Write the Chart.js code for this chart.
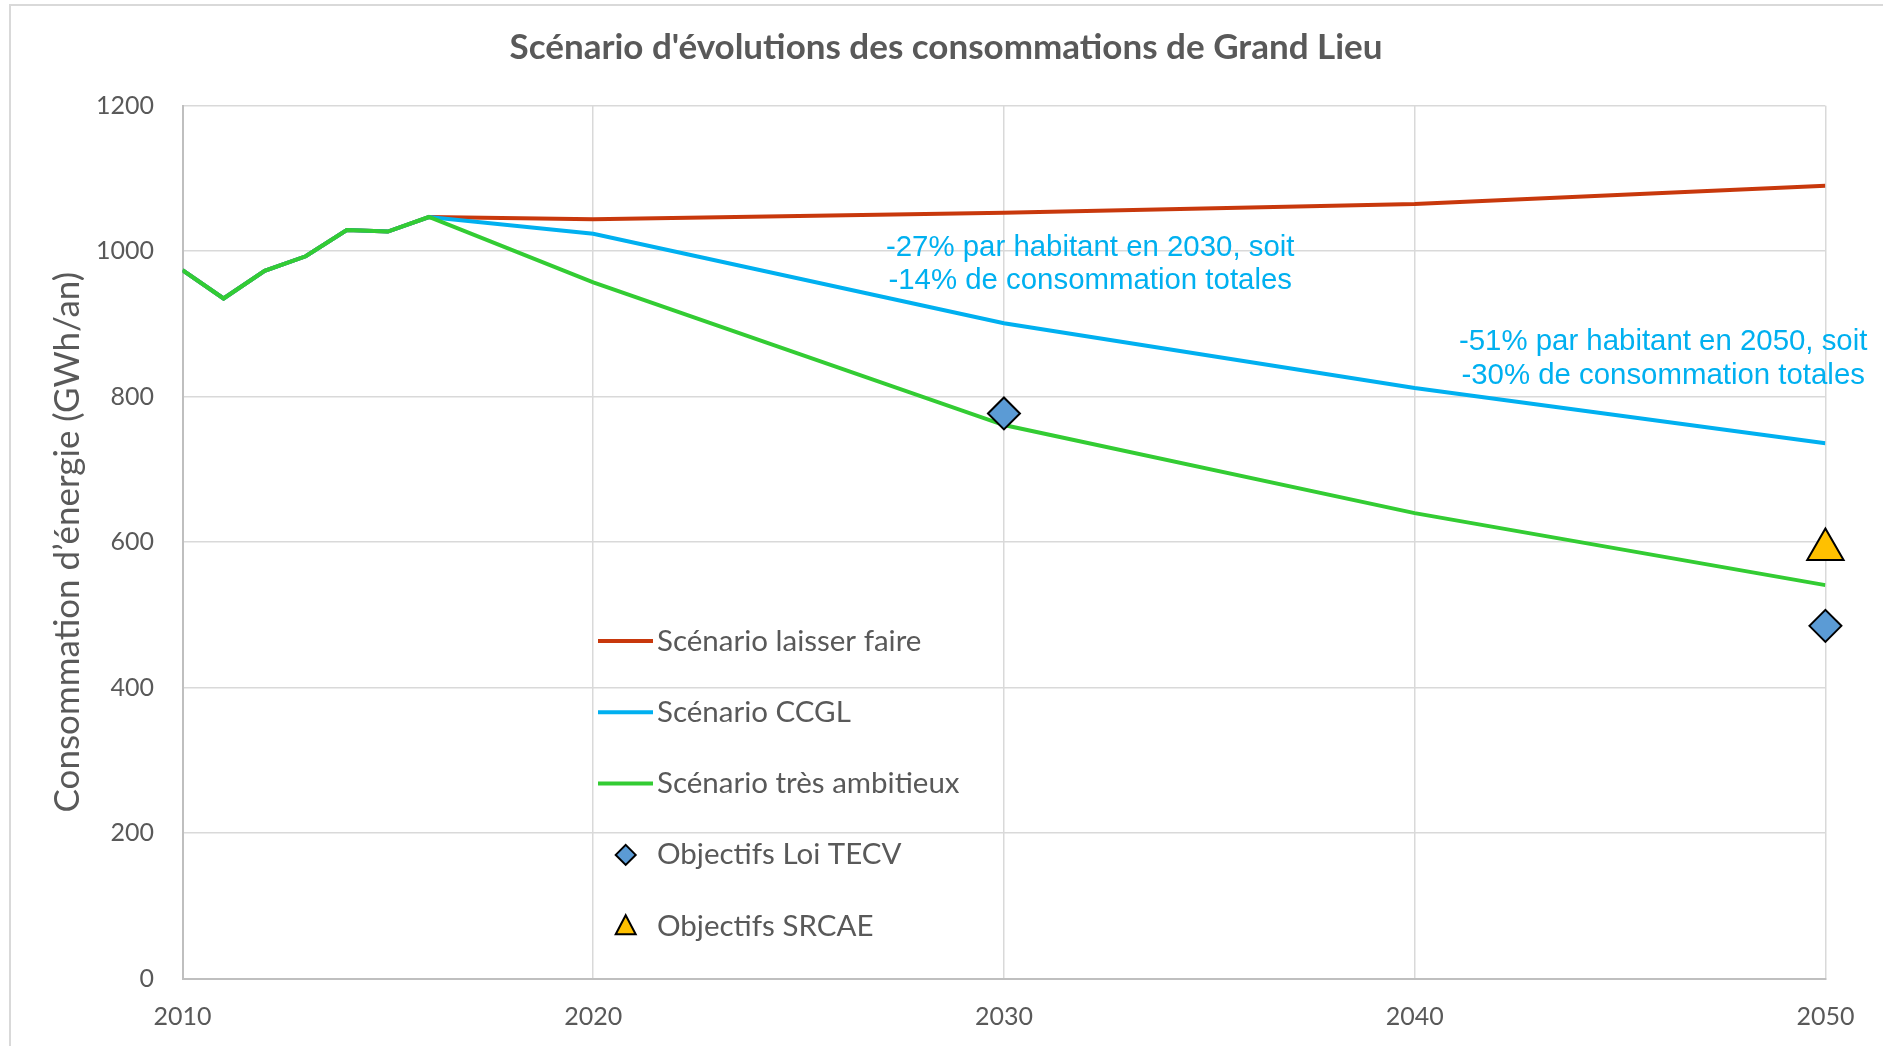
<!DOCTYPE html>
<html>
<head>
<meta charset="utf-8">
<script src="https://cdn.jsdelivr.net/npm/chart.js@4/dist/chart.umd.min.js"></script>
<style>
  html, body { margin: 0; padding: 0; background: #fff; }
  #frame { position: absolute; left: 9px; top: 4px; width: 1900px; height: 1100px; border: 2px solid #d9d9d9; }
  #wrap { position: absolute; left: 0; top: 0; width: 1883px; height: 1046px; }
</style>
</head>
<body>
<div id="frame"></div>
<div id="wrap"><canvas id="chart"></canvas></div>
<script>
// ─── DATA ───────────────────────────────────────────────────────────
const histYears = [2010, 2011, 2012, 2013, 2014, 2015, 2016];
const histValues = [974, 935, 973, 993, 1029, 1027, 1047];
const futureYears = [2020, 2030, 2040, 2050];
const laisserFaire = [1044, 1053, 1065, 1090];
const ccgl = [1024, 901, 812, 736];
const tresAmbitieux = [957, 761, 640, 541];
const tecvYears = [2030, 2050];
const tecvValues = [777, 485];
const srcaeYears = [2050];
const srcaeValues = [590];
const xTicks = [2010, 2020, 2030, 2040, 2050];
const yTicks = [0, 200, 400, 600, 800, 1000, 1200];

const chartTitle = "Scénario d'évolutions des consommations de Grand Lieu";
const notes = [
  { x: 2032.1, y: 1005, lines: ['-27% par habitant en 2030, soit', '-14% de consommation totales'] },
  { x: 2046.05, y: 875, lines: ['-51% par habitant en 2050, soit', '-30% de consommation totales'] }
];

const GREY = '#595959';
const pts = (xs, ys) => xs.map((x, i) => ({ x, y: ys[i] }));
const scenario = future => pts(histYears.concat(futureYears), histValues.concat(future));

// title, legend + annotations drawn over the plot
const overlay = {
  id: 'overlay',
  afterDraw(chart) {
    const { ctx, scales: { x, y } } = chart;
    ctx.save();
    ctx.textAlign = 'center';
    ctx.textBaseline = 'middle';

    ctx.font = 'bold 35px Lato, "Noto Sans", sans-serif';
    ctx.fillStyle = GREY;
    ctx.fillText(chartTitle, 946, 48);

    ctx.font = '29.4px "Liberation Sans", Arial, sans-serif';
    ctx.fillStyle = '#00B0F0';
    notes.forEach(n => n.lines.forEach((t, i) =>
      ctx.fillText(t, x.getPixelForValue(n.x), y.getPixelForValue(n.y) + i * 33.5)));

    // legend
    const lx = 598, tx = 657, top = 641, step = 71.3;
    ctx.textAlign = 'left';
    ctx.font = '29.5px Lato, "Noto Sans", sans-serif';
    chart.data.datasets.forEach((ds, i) => {
      const cy = top + i * step;
      if (ds.showLine === false) {
        const cx = lx + 27.7;
        ctx.beginPath();
        if (ds.pointStyle === 'rectRot') {
          ctx.moveTo(cx, cy - 10); ctx.lineTo(cx + 10, cy); ctx.lineTo(cx, cy + 10); ctx.lineTo(cx - 10, cy);
        } else {
          ctx.moveTo(cx, cy - 11); ctx.lineTo(cx + 10, cy + 8); ctx.lineTo(cx - 10, cy + 8);
        }
        ctx.closePath();
        ctx.fillStyle = ds.backgroundColor;
        ctx.fill();
        ctx.lineWidth = 2;
        ctx.strokeStyle = '#000';
        ctx.stroke();
      } else {
        ctx.beginPath();
        ctx.moveTo(lx, cy); ctx.lineTo(lx + 55, cy);
        ctx.lineWidth = 4;
        ctx.strokeStyle = ds.borderColor;
        ctx.stroke();
      }
      ctx.fillStyle = GREY;
      ctx.fillText(ds.label, tx, cy);
    });
    ctx.restore();
  }
};

const lineStyle = { borderWidth: 4, pointRadius: 0, tension: 0, fill: false };

new Chart(document.getElementById('chart'), {
  type: 'line',
  data: {
    datasets: [
      { label: 'Scénario laisser faire', data: scenario(laisserFaire), borderColor: '#C8380C', order: 3, ...lineStyle },
      { label: 'Scénario CCGL', data: scenario(ccgl), borderColor: '#00B0F0', order: 2, ...lineStyle },
      { label: 'Scénario très ambitieux', data: scenario(tresAmbitieux), borderColor: '#33CC33', order: 1, ...lineStyle },
      { label: 'Objectifs Loi TECV', data: pts(tecvYears, tecvValues), showLine: false, pointStyle: 'rectRot', clip: false,
        pointRadius: 16, backgroundColor: '#5B9BD5', borderColor: '#000', pointBorderWidth: 2, order: 0 },
      { label: 'Objectifs SRCAE', data: pts(srcaeYears, srcaeValues), showLine: false, pointStyle: 'triangle', clip: false,
        pointRadius: 21, backgroundColor: '#FFC000', borderColor: '#000', pointBorderWidth: 2, order: 0 }
    ]
  },
  options: {
    responsive: true,
    maintainAspectRatio: false,
    animation: false,
    events: [],
    layout: { padding: { left: 0, right: 57.6, top: 105.7, bottom: 0 } },
    plugins: {
      legend: { display: false },
      tooltip: { enabled: false },
      title: { display: false }
    },
    scales: {
      x: {
        type: 'linear',
        min: xTicks[0], max: xTicks[xTicks.length - 1],
        afterBuildTicks: s => { s.ticks = xTicks.map(v => ({ value: v })); },
        afterFit: s => { s.height = 67.3; },
        ticks: { color: GREY, padding: 23, font: { family: 'Lato, "Noto Sans", sans-serif', size: 25 }, callback: v => String(v) },
        grid: { color: '#d9d9d9', lineWidth: 1.5, drawTicks: false },
        border: { color: '#bfbfbf', width: 2 }
      },
      y: {
        min: yTicks[0], max: yTicks[yTicks.length - 1],
        afterBuildTicks: s => { s.ticks = yTicks.map(v => ({ value: v })); },
        afterFit: s => { s.width = 182.5; },
        ticks: { color: GREY, padding: 28.5, font: { family: 'Lato, "Noto Sans", sans-serif', size: 25 }, callback: v => String(v) },
        grid: { color: '#d9d9d9', lineWidth: 1.5, drawTicks: false },
        border: { color: '#bfbfbf', width: 2 },
        title: {
          display: true,
          text: 'Consommation d’énergie (GWh/an)',
          color: GREY,
          font: { family: 'Lato, "Noto Sans", sans-serif', size: 35, lineHeight: 1.2 },
          padding: { top: 47, bottom: 0 }
        }
      }
    }
  },
  plugins: [overlay]
});
</script>
</body>
</html>
